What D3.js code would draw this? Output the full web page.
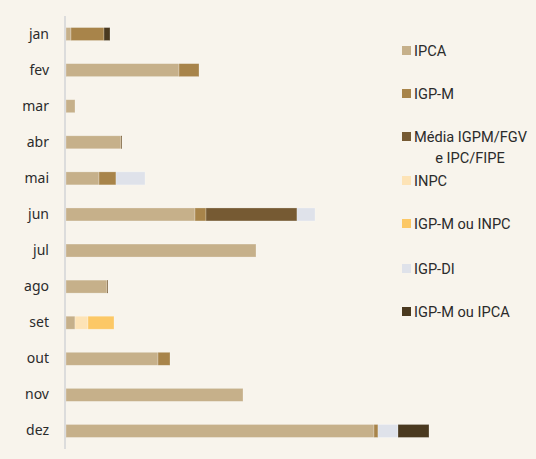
<!DOCTYPE html>
<meta charset="utf-8">
<style>
body { margin: 0; background: #f8f4ec; }
svg { display: block; }
.month { font: 14px "Noto Sans", sans-serif; fill: #2b2b2b; text-anchor: end; }
.legend text { font: 14.6px Roboto, sans-serif; fill: #2b2b2b; }
</style>
<body>
<script src="https://cdn.jsdelivr.net/npm/d3@7"></script>
<script>

// months and series
var months = ["jan", "fev", "mar", "abr", "mai", "jun", "jul", "ago", "set", "out", "nov", "dez"];
var seriesNames = ["IPCA", "IGP-M", "Média IGPM/FGV e IPC/FIPE", "INPC", "IGP-M ou INPC", "IGP-DI", "IGP-M ou IPCA"];
var colors = ["#c6b08a", "#a8844a", "#765a33", "#fde3b6", "#fcc866", "#dfe2ea", "#4a391f"];

// values per month
var ipca        = [5, 113, 9, 55, 33, 129, 190, 41, 9, 92, 177, 308];
var igpm        = [33, 20, 0, 0, 17, 11, 0, 0, 0, 12, 0, 4];
var mediaFgv    = [0, 0, 0, 1, 0, 91, 0, 1, 0, 0, 0, 0];
var inpc        = [0, 0, 0, 0, 0, 0, 0, 0, 13, 0, 0, 0];
var igpmOuInpc  = [0, 0, 0, 0, 0, 0, 0, 0, 26, 0, 0, 0];
var igpdi       = [0, 0, 0, 0, 29, 18, 0, 0, 0, 0, 0, 20];
var igpmOuIpca  = [6, 0, 0, 0, 0, 0, 0, 0, 0, 0, 0, 31];

var seriesValues = [ipca, igpm, mediaFgv, inpc, igpmOuInpc, igpdi, igpmOuIpca];

var width = 536, height = 459;
var margin = {top: 16, left: 66, bottom: 10};

var table = months.map(function(m, i) {
  var row = {month: m};
  seriesNames.forEach(function(s, j) { row[s] = seriesValues[j][i]; });
  return row;
});

var stacked = d3.stack().keys(seriesNames)(table);
var maxTotal = d3.max(table, function(d) { return d3.sum(seriesNames, function(s) { return d[s]; }); });

var x = d3.scaleLinear().domain([0, maxTotal]).range([margin.left, margin.left + 363]);
var y = d3.scaleBand().domain(months).range([margin.top, 449]).paddingInner(0.64).paddingOuter(0.32);
var color = d3.scaleOrdinal().domain(seriesNames).range(colors);

var svg = d3.select("body").append("svg")
    .attr("width", width)
    .attr("height", height);

// bars
svg.append("g").selectAll("g")
    .data(stacked)
  .enter().append("g")
    .attr("fill", function(d) { return color(d.key); })
  .selectAll("rect")
    .data(function(d) { return d.filter(function(p) { return p[1] > p[0]; }); })
  .enter().append("rect")
    .attr("x", function(d) { return x(d[0]); })
    .attr("y", function(d) { return y(d.data.month); })
    .attr("width", function(d) { return x(d[1]) - x(d[0]); })
    .attr("height", y.bandwidth())
    .attr("stroke", "#ffffff")
    .attr("stroke-opacity", 0.35)
    .attr("stroke-width", 0.7);

// y axis
var yAxis = svg.append("g")
    .attr("transform", "translate(" + (margin.left - 1) + ",0)")
    .call(d3.axisLeft(y).tickSize(0).tickPadding(16));
yAxis.select(".domain").attr("stroke", "#dcdcdc").attr("stroke-width", 2)
    .attr("d", "M0,16V449");
yAxis.selectAll(".tick text").attr("class", "month").attr("font-size", null).attr("font-family", null);

// legend
var legend = svg.append("g").attr("class", "legend")
    .attr("transform", "translate(402,0)");
var legendY = [51, 94, 137, 181, 224, 269, 312];

var item = legend.selectAll("g")
    .data(seriesNames)
  .enter().append("g")
    .attr("transform", function(d, i) { return "translate(0," + legendY[i] + ")"; });

item.append("rect")
    .attr("x", 0).attr("y", -5)
    .attr("width", 9).attr("height", 9)
    .attr("fill", function(d) { return color(d); });

item.each(function(d) {
  var t = d3.select(this).append("text").attr("x", 12).attr("dy", "0.35em");
  if (d.indexOf("Média") === 0) {
    t.append("tspan").attr("x", 12).text("Média IGPM/FGV");
    t.append("tspan").attr("x", 68).attr("dy", "1.4em").attr("text-anchor", "middle").text("e IPC/FIPE");
  } else {
    t.text(d);
  }
});

</script>
</body>
